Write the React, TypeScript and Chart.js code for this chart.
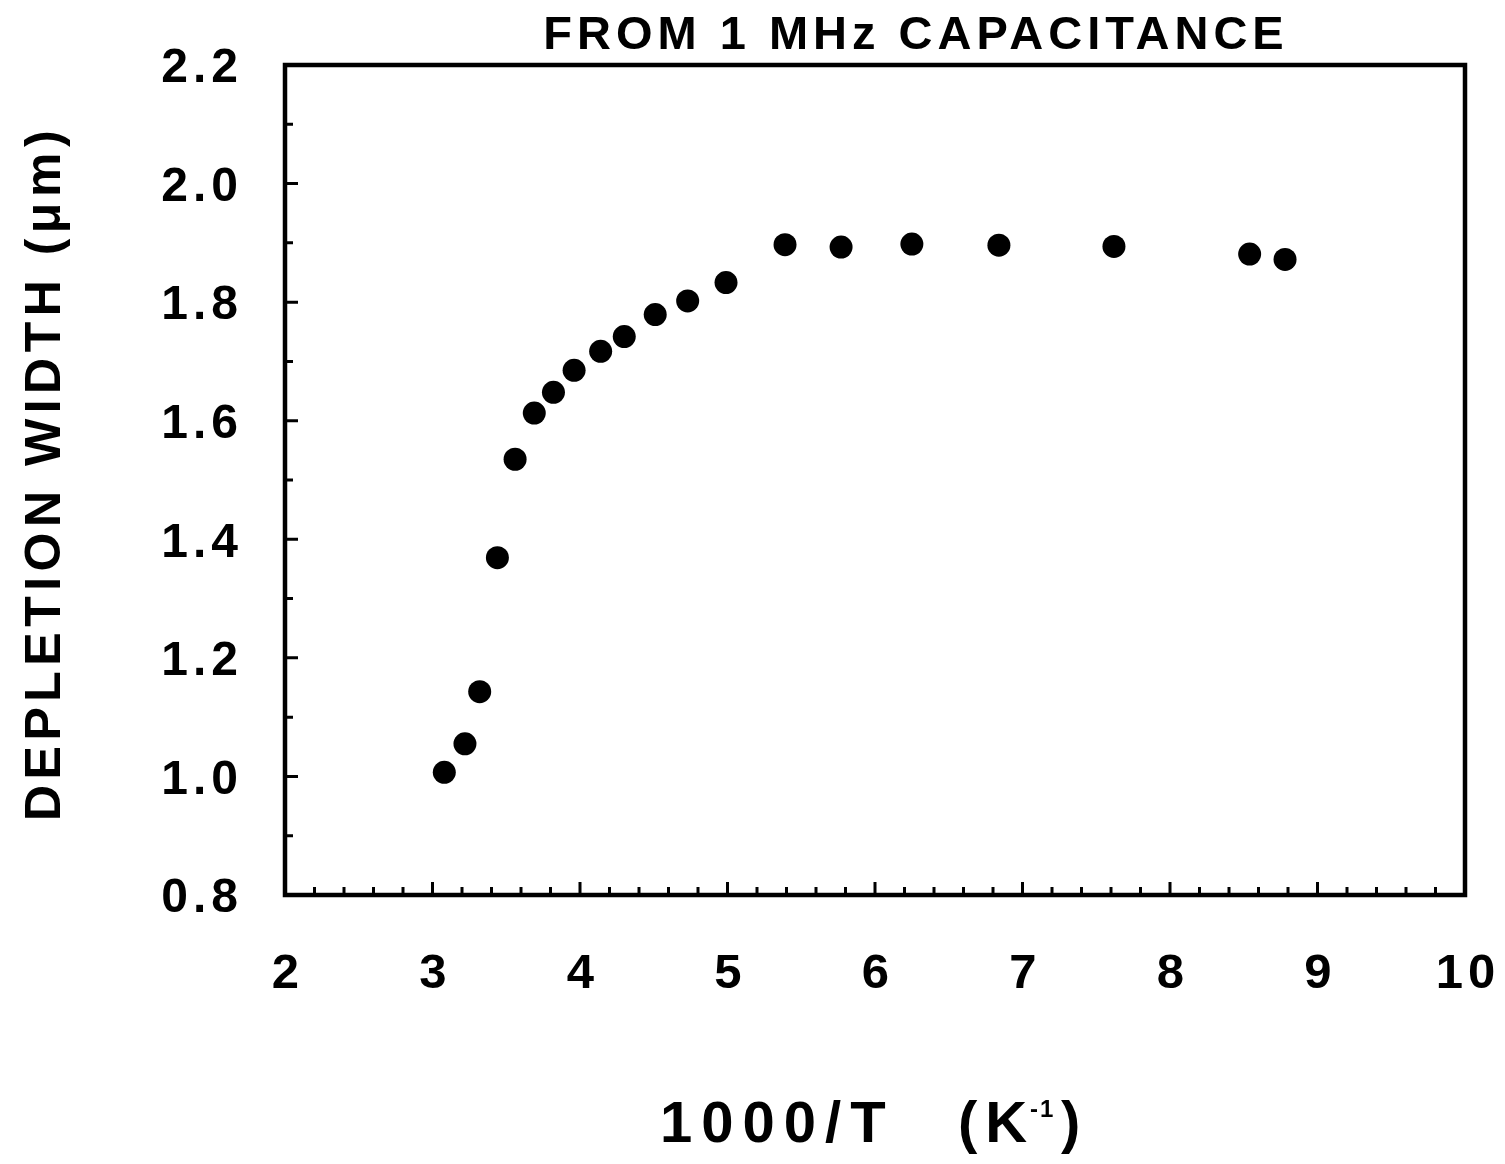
import React, { useEffect, useRef } from 'react';
import { Chart, registerables } from 'chart.js';

Chart.register(...registerables);

// ---- data ----
const xValues = [3.08, 3.22, 3.32, 3.44, 3.56, 3.69, 3.82, 3.96, 4.14, 4.3, 4.51, 4.73, 4.99, 5.39, 5.77, 6.25, 6.84, 7.62, 8.54, 8.78];
const yValues = [1.007, 1.055, 1.143, 1.369, 1.535, 1.613, 1.648, 1.685, 1.717, 1.742, 1.779, 1.802, 1.833, 1.897, 1.893, 1.898, 1.896, 1.894, 1.881, 1.872];

const xTickLabels = ['2', '3', '4', '5', '6', '7', '8', '9', '10'];
const yTickLabels = ['0.8', '1.0', '1.2', '1.4', '1.6', '1.8', '2.0', '2.2'];

const titleText = 'FROM 1 MHz CAPACITANCE';
const yTitleText = 'DEPLETION WIDTH (\u03bcm)';
const xTitleMain = '1000/T';
const xTitleUnitOpen = '(K';
const xTitleUnitSup = '-1';
const xTitleUnitClose = ')';

const FONT = '"Liberation Sans", Arial, Helvetica, sans-serif';
const TICK_SPACING = '5px';

const framePlugin = {
  id: 'frameAndTitles',
  beforeUpdate(chart: any) {
    chart.ctx.letterSpacing = TICK_SPACING;
  },
  beforeDraw(chart: any) {
    chart.ctx.letterSpacing = TICK_SPACING;
  },
  afterDraw(chart: any) {
    const { ctx, chartArea: a, scales } = chart;
    const xs = scales.x;
    const ys = scales.y;
    ctx.save();
    ctx.strokeStyle = '#000';
    ctx.fillStyle = '#000';
    ctx.lineCap = 'butt';
    // frame
    ctx.lineWidth = 4.5;
    ctx.strokeRect(a.left, a.top, a.right - a.left, a.bottom - a.top);
    // inward ticks from the library's generated ticks
    ctx.lineWidth = 3;
    ctx.beginPath();
    xs.ticks.forEach((t: any) => {
      const px = xs.getPixelForValue(t.value);
      const major = Math.abs(t.value - Math.round(t.value)) < 1e-6;
      const len = major ? 13 : 8;
      ctx.moveTo(px, a.bottom);
      ctx.lineTo(px, a.bottom - len);
    });
    ys.ticks.forEach((t: any) => {
      const py = ys.getPixelForValue(t.value);
      const idx = Math.round((t.value - 0.8) / 0.1);
      const len = idx % 2 === 0 ? 13 : 8;
      ctx.moveTo(a.left, py);
      ctx.lineTo(a.left + len, py);
    });
    ctx.stroke();

    // title
    ctx.font = `bold 47px ${FONT}`;
    ctx.letterSpacing = '5px';
    ctx.textAlign = 'center';
    ctx.textBaseline = 'alphabetic';
    ctx.fillText(titleText, 916, 49);

    // y title
    ctx.save();
    ctx.translate(60, 473);
    ctx.rotate(-Math.PI / 2);
    ctx.font = `bold 50px ${FONT}`;
    ctx.letterSpacing = '5.5px';
    ctx.textAlign = 'center';
    ctx.fillText(yTitleText, 0, 0);
    ctx.restore();

    // x title
    ctx.textAlign = 'left';
    ctx.font = `bold 58px ${FONT}`;
    ctx.letterSpacing = '9px';
    ctx.fillText(xTitleMain, 660, 1142);
    ctx.letterSpacing = '8px';
    ctx.fillText(xTitleUnitOpen, 958, 1142);
    ctx.font = `bold 24px ${FONT}`;
    ctx.letterSpacing = '2px';
    ctx.fillText(xTitleUnitSup, 1030, 1117);
    ctx.font = `bold 58px ${FONT}`;
    ctx.letterSpacing = '0px';
    ctx.fillText(xTitleUnitClose, 1061, 1142);
    ctx.restore();
  },
};

export default function App() {
  const ref = useRef<HTMLCanvasElement | null>(null);
  useEffect(() => {
    if (!ref.current) return;
    const chart = new Chart(ref.current, {
      type: 'scatter',
      data: {
        datasets: [
          {
            data: xValues.map((x, i) => ({ x, y: yValues[i] })),
            pointRadius: 11.5,
            pointHoverRadius: 11.5,
            backgroundColor: '#000',
            borderWidth: 0,
            showLine: false,
          },
        ],
      },
      options: {
        responsive: false,
        animation: false,
        devicePixelRatio: 1,
        layout: { padding: { left: 0, right: 40, top: 65, bottom: 0 } },
        plugins: {
          legend: { display: false },
          tooltip: { enabled: false },
          title: { display: false },
        },
        scales: {
          x: {
            type: 'linear',
            min: 2,
            max: 10,
            grid: { display: false },
            border: { display: false },
            ticks: {
              stepSize: 0.2,
              autoSkip: false,
              maxRotation: 0,
              padding: 42,
              labelOffset: 3,
              color: '#000',
              font: { family: FONT, size: 49, weight: 'bold' },
              callback: (v: any) => {
                const n = Number(v);
                if (Math.abs(n - Math.round(n)) < 1e-6) return xTickLabels[Math.round(n) - 2];
                return '';
              },
            },
            afterFit: (s: any) => {
              s.height = 269;
              s.paddingLeft = 0;
              s.paddingRight = 0;
            },
          },
          y: {
            type: 'linear',
            min: 0.8,
            max: 2.2,
            grid: { display: false },
            border: { display: false },
            ticks: {
              stepSize: 0.1,
              autoSkip: false,
              padding: 34,
              labelOffset: 4,
              color: '#000',
              font: { family: FONT, size: 48, weight: 'bold' },
              callback: (v: any) => {
                const idx = Math.round((Number(v) - 0.8) / 0.1);
                return idx % 2 === 0 ? yTickLabels[idx / 2] : '';
              },
            },
            afterFit: (s: any) => {
              s.width = 285;
              s.paddingTop = 0;
              s.paddingBottom = 0;
            },
          },
        },
      },
      plugins: [framePlugin],
    });
    return () => chart.destroy();
  }, []);
  return (
    <div style={{ position: 'absolute', left: 0, top: 0, width: 1505, height: 1164, background: '#fff' }}>
      <canvas ref={ref} width={1505} height={1164} style={{ display: 'block' }} />
    </div>
  );
}
